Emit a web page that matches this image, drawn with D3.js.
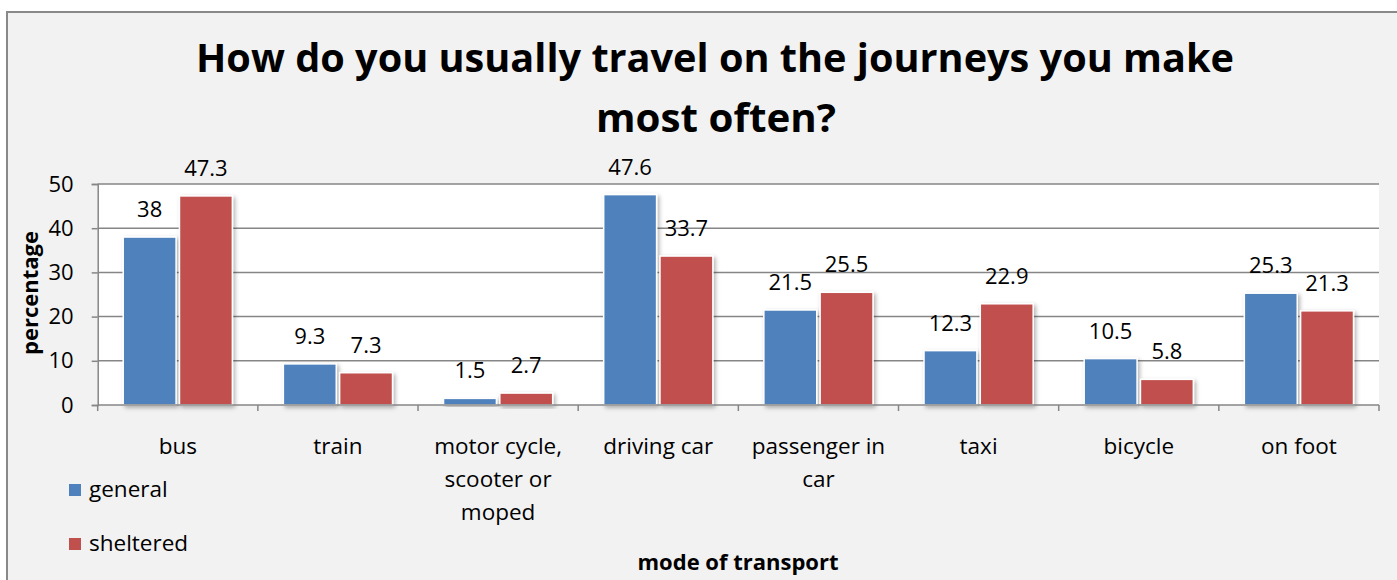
<!DOCTYPE html>
<html>
<head>
<meta charset="utf-8">
<script src="https://cdn.jsdelivr.net/npm/d3@7"></script>
<style>
  body { margin: 0; background: #fff; }
  text { font-family: "Open Sans", "Noto Sans", sans-serif; }
</style>
</head>
<body>
<div id="chartDiv"></div>
<script>
// data
var categories = ["bus", "train", "motor cycle, scooter or moped", "driving car", "passenger in car", "taxi", "bicycle", "on foot"];
var categoryLines = [["bus"], ["train"], ["motor cycle,", "scooter or", "moped"], ["driving car"], ["passenger in", "car"], ["taxi"], ["bicycle"], ["on foot"]];
var seriesNames = ["general", "sheltered"];
var general = [38, 9.3, 1.5, 47.6, 21.5, 12.3, 10.5, 25.3];
var sheltered = [47.3, 7.3, 2.7, 33.7, 25.5, 22.9, 5.8, 21.3];
var yTicks = [0, 10, 20, 30, 40, 50];
var colors = ["#4f81bd", "#c0504d"];

var width = 1397, height = 580;
var plotLeft = 97.7, plotRight = 1379, plotTop = 184, plotBottom = 405;

var svg = d3.select("#chartDiv")
            .append("svg")
            .attr("width", width)
            .attr("height", height);

// shadow for the bars
var defs = svg.append("defs");
var f = defs.append("filter").attr("id", "shadow")
            .attr("x", "-20%").attr("y", "-20%").attr("width", "150%").attr("height", "150%");
f.append("feDropShadow").attr("dx", 2).attr("dy", 2).attr("stdDeviation", 2)
 .attr("flood-color", "#000").attr("flood-opacity", 0.3);

// chart area
svg.append("rect")
   .attr("x", 7).attr("y", 12)
   .attr("width", width + 10).attr("height", height + 10)
   .attr("fill", "#f2f2f2")
   .attr("stroke", "#898989")
   .attr("stroke-width", 2);

// plot area
svg.append("rect")
   .attr("x", plotLeft).attr("y", plotTop)
   .attr("width", plotRight - plotLeft).attr("height", plotBottom - plotTop)
   .attr("fill", "#fff");

var x0 = d3.scaleBand().domain(categories).range([plotLeft, plotRight]);
var x1 = d3.scaleBand().domain(seriesNames)
           .range([25.5, x0.bandwidth() - 25.5])
           .paddingInner(0.06);
var y = d3.scaleLinear().domain([0, 50]).range([plotBottom, plotTop]);

// gridlines
svg.append("g").selectAll("line")
   .data(yTicks.slice(1))
   .enter()
   .append("line")
   .attr("x1", plotLeft).attr("x2", plotRight)
   .attr("y1", function(d) { return y(d); })
   .attr("y2", function(d) { return y(d); })
   .attr("stroke", "#868686")
   .attr("stroke-width", 1.5);

// y axis
var yAxis = svg.append("g")
   .attr("transform", "translate(" + plotLeft + ",0)")
   .call(d3.axisLeft(y).tickValues(yTicks).tickSize(6).tickPadding(18));
yAxis.select(".domain").attr("stroke", "#868686").attr("stroke-width", 1.5);
yAxis.selectAll(".tick line").attr("stroke", "#868686").attr("stroke-width", 1.5);
yAxis.selectAll(".tick text").attr("font-size", "22px").attr("fill", "#000")
     .attr("font-family", "'Open Sans', sans-serif");

// bars
var rows = categories.map(function(c, i) {
    return { cat: c, values: [general[i], sheltered[i]] };
});

var groups = svg.append("g").selectAll("g")
   .data(rows)
   .enter()
   .append("g")
   .attr("transform", function(d) { return "translate(" + x0(d.cat) + ",0)"; });

groups.selectAll("rect")
   .data(function(d) { return d.values.map(function(v, j) { return { s: seriesNames[j], v: v, j: j }; }); })
   .enter()
   .append("rect")
   .attr("x", function(d) { return x1(d.s); })
   .attr("y", function(d) { return y(d.v); })
   .attr("width", x1.bandwidth())
   .attr("height", function(d) { return plotBottom - y(d.v); })
   .attr("fill", function(d) { return colors[d.j]; })
   .attr("stroke", "#fff")
   .attr("stroke-width", 1.5)
   .attr("filter", "url(#shadow)");

groups.selectAll("text.val")
   .data(function(d) { return d.values.map(function(v, j) { return { s: seriesNames[j], v: v }; }); })
   .enter()
   .append("text")
   .attr("class", "val")
   .attr("x", function(d) { return x1(d.s) + x1.bandwidth() / 2; })
   .attr("y", function(d) { return y(d.v) - 20; })
   .attr("text-anchor", "middle")
   .attr("font-size", "22px")
   .text(function(d) { return d.v; });

// x axis
var xAxis = svg.append("g")
   .attr("transform", "translate(0," + plotBottom + ")");
xAxis.append("line")
   .attr("x1", plotLeft).attr("x2", plotRight)
   .attr("stroke", "#868686").attr("stroke-width", 1.5);
xAxis.selectAll("line.tick")
   .data(d3.range(categories.length + 1))
   .enter()
   .append("line")
   .attr("class", "tick")
   .attr("x1", function(i) { return plotLeft + i * x0.bandwidth(); })
   .attr("x2", function(i) { return plotLeft + i * x0.bandwidth(); })
   .attr("y1", 0).attr("y2", 6)
   .attr("stroke", "#868686").attr("stroke-width", 1.5);

xAxis.selectAll("text")
   .data(categories)
   .enter()
   .append("text")
   .attr("x", function(d) { return x0(d) + x0.bandwidth() / 2; })
   .attr("y", 49)
   .attr("text-anchor", "middle")
   .attr("font-size", "22.5px")
   .each(function(d, i) {
       var t = d3.select(this);
       categoryLines[i].forEach(function(line, k) {
           t.append("tspan")
            .attr("x", x0(d) + x0.bandwidth() / 2)
            .attr("dy", k === 0 ? 0 : 33)
            .text(line);
       });
   });

// title
svg.append("text")
   .attr("x", 715).attr("y", 72)
   .attr("text-anchor", "middle")
   .attr("font-size", "40px").attr("font-weight", "bold")
   .attr("textLength", 1038).attr("lengthAdjust", "spacingAndGlyphs")
   .text("How do you usually travel on the journeys you make");
svg.append("text")
   .attr("x", 716).attr("y", 132)
   .attr("text-anchor", "middle")
   .attr("font-size", "40px").attr("font-weight", "bold")
   .attr("textLength", 240).attr("lengthAdjust", "spacingAndGlyphs")
   .text("most often?");

// axis titles
svg.append("text")
   .attr("x", 738).attr("y", 570)
   .attr("text-anchor", "middle")
   .attr("font-size", "22px").attr("font-weight", "bold")
   .text("mode of transport");
svg.append("text")
   .attr("transform", "translate(38,293) rotate(-90)")
   .attr("text-anchor", "middle")
   .attr("font-size", "22px").attr("font-weight", "bold")
   .text("percentage");

// legend
var legend = svg.append("g").selectAll("g")
   .data(seriesNames)
   .enter()
   .append("g")
   .attr("transform", function(d, i) { return "translate(69," + (484 + i * 54) + ")"; });
legend.append("rect")
   .attr("width", 12).attr("height", 12)
   .attr("fill", function(d, i) { return colors[i]; });
legend.append("text")
   .attr("x", 20).attr("y", 13)
   .attr("font-size", "22.5px")
   .text(function(d) { return d; });
</script>
</body>
</html>
